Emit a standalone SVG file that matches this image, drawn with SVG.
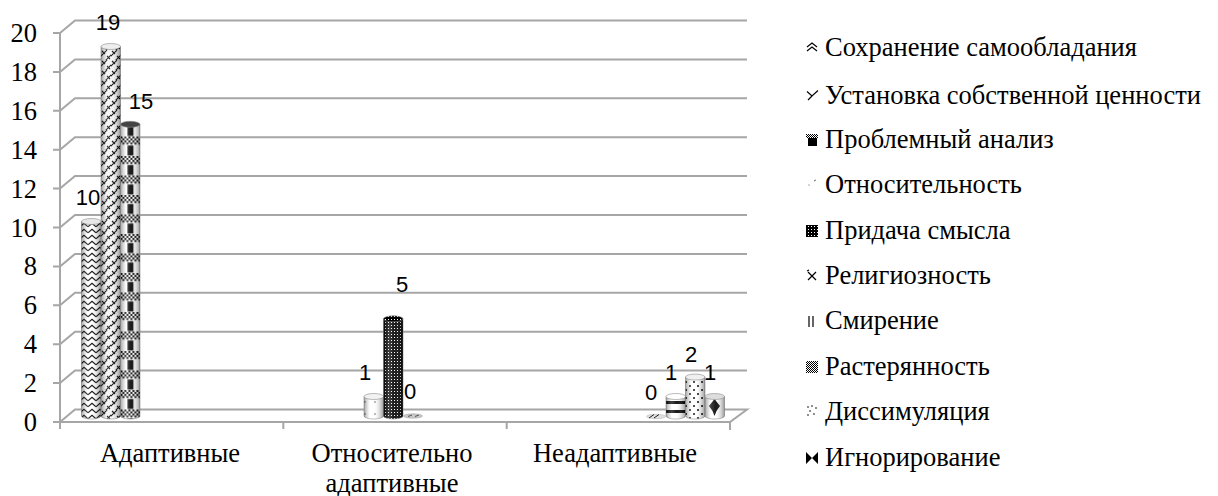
<svg xmlns="http://www.w3.org/2000/svg" width="1218" height="496" viewBox="0 0 1218 496">
<style>
.grid{stroke:#A6A6A6;stroke-width:2;fill:none}
.yl{font-family:'Liberation Serif',serif;font-size:26.5px;fill:#000;text-anchor:end}
.cl{font-family:'Liberation Serif',serif;font-size:26.5px;fill:#000;text-anchor:middle}
.lg{font-family:'Liberation Serif',serif;font-size:26.5px;fill:#000}
.dl{font-family:'Liberation Sans',Arial,sans-serif;font-size:22px;fill:#000;text-anchor:middle}
.body{stroke:#8C8C8C;stroke-width:0.6}
.shade{fill:url(#shade);stroke:none}
.top{stroke:#8C8C8C;stroke-width:0.6}
.ic{stroke:#000;stroke-width:1.2;fill:none}
</style>
<defs>
<linearGradient id="shade" x1="0" y1="0" x2="1" y2="0">
<stop offset="0" stop-color="#000" stop-opacity="0.35"/>
<stop offset="0.3" stop-color="#fff" stop-opacity="0.25"/>
<stop offset="0.55" stop-color="#fff" stop-opacity="0.1"/>
<stop offset="1" stop-color="#000" stop-opacity="0.4"/>
</linearGradient>
<pattern id="p1" patternUnits="userSpaceOnUse" width="8" height="6">
<rect width="8" height="6" fill="#fff"/>
<path d="M0,4.8 L4,1.2 L8,4.8" stroke="#000" stroke-width="1.2" fill="none"/>
</pattern>
<pattern id="p2" patternUnits="userSpaceOnUse" width="10" height="10" x="101">
<rect width="10" height="10" fill="#f4f4f4"/>
<path d="M-1,7 L6,0 M4,11 L11,4 M1,1 L4,4 M6,6 L9,9" stroke="#000" stroke-width="1.1" fill="none"/>
</pattern>
<pattern id="p3" patternUnits="userSpaceOnUse" width="19.5" height="19.5" x="120.5" y="0">
<rect width="19.5" height="19.5" fill="#fff"/>
<path d="M0,0h2v2h-2zM4,0h2v2h-2zM8,0h2v2h-2zM12,0h2v2h-2zM16,0h2v2h-2zM2,2h2v2h-2zM6,2h2v2h-2zM10,2h2v2h-2zM14,2h2v2h-2zM18,2h2v2h-2zM0,4h2v2h-2zM4,4h2v2h-2zM8,4h2v2h-2zM12,4h2v2h-2zM16,4h2v2h-2zM2,6h2v2h-2zM6,6h2v2h-2zM10,6h2v2h-2zM14,6h2v2h-2zM18,6h2v2h-2z" fill="#000"/>
<rect x="7" y="9" width="6" height="10" fill="#000"/>
</pattern>
<pattern id="p4" patternUnits="userSpaceOnUse" width="10" height="12">
<rect width="10" height="12" fill="#fff"/>
<circle cx="5" cy="6" r="0.8" fill="#555"/>
</pattern>
<pattern id="p5" patternUnits="userSpaceOnUse" width="3" height="3">
<rect width="3" height="3" fill="#000"/>
<rect x="1" y="1" width="1" height="1" fill="#fff"/>
</pattern>
<pattern id="p8" patternUnits="userSpaceOnUse" width="20" height="9" y="398">
<rect width="20" height="9" fill="#fff"/>
<rect y="3" width="20" height="3" fill="#000"/>
</pattern>
<pattern id="p9" patternUnits="userSpaceOnUse" width="8" height="8">
<rect width="8" height="8" fill="#fff"/>
<circle cx="2" cy="2" r="1.1" fill="#000"/>
<circle cx="6" cy="6" r="1.1" fill="#000"/>
</pattern>
<pattern id="pck" patternUnits="userSpaceOnUse" width="2" height="2">
<rect width="2" height="2" fill="#fff"/>
<rect width="1" height="1" fill="#000"/>
<rect x="1" y="1" width="1" height="1" fill="#000"/>
</pattern>
</defs>

<g id="axes">
<path class="grid" d="M53,422 L730,422 L747,409.5 L75,409.5 L60,422"/>
<path class="grid" d="M53,383.1 L60,383.1 L75,370.6 L747,370.6"/>
<path class="grid" d="M53,344.2 L60,344.2 L75,331.7 L747,331.7"/>
<path class="grid" d="M53,305.3 L60,305.3 L75,292.8 L747,292.8"/>
<path class="grid" d="M53,266.4 L60,266.4 L75,253.9 L747,253.9"/>
<path class="grid" d="M53,227.5 L60,227.5 L75,215 L747,215"/>
<path class="grid" d="M53,188.6 L60,188.6 L75,176.1 L747,176.1"/>
<path class="grid" d="M53,149.7 L60,149.7 L75,137.2 L747,137.2"/>
<path class="grid" d="M53,110.8 L60,110.8 L75,98.3 L747,98.3"/>
<path class="grid" d="M53,71.9 L60,71.9 L75,59.4 L747,59.4"/>
<path class="grid" d="M53,33 L60,33 L75,20.5 L747,20.5"/>
<path class="grid" d="M60,33 L60,429 M283.3,422 L283.3,429 M506.7,422 L506.7,429 M730,422 L730,430"/>
<text class="yl" x="37" y="431">0</text>
<text class="yl" x="37" y="392.1">2</text>
<text class="yl" x="37" y="353.2">4</text>
<text class="yl" x="37" y="314.3">6</text>
<text class="yl" x="37" y="275.4">8</text>
<text class="yl" x="37" y="236.5">10</text>
<text class="yl" x="37" y="197.6">12</text>
<text class="yl" x="37" y="158.7">14</text>
<text class="yl" x="37" y="119.8">16</text>
<text class="yl" x="37" y="80.9">18</text>
<text class="yl" x="37" y="42">20</text>
<text class="cl" x="170" y="462">Адаптивные</text>
<text class="cl" x="392" y="462">Относительно</text>
<text class="cl" x="392" y="492">адаптивные</text>
<text class="cl" x="615" y="462">Неадаптивные</text>
</g>

<g id="bars">
<g id="a-s1">
<path class="body" fill="url(#p1)" d="M81.5,221.5 V416 A9.75,3 0 0 0 101,416 V221.5 Z"/>
<path class="shade" d="M81.5,221.5 V416 A9.75,3 0 0 0 101,416 V221.5 Z"/>
<ellipse class="top" cx="91.25" cy="221.5" rx="9.75" ry="3" fill="#e8e8e8"/>
</g>
<g id="a-s2">
<path class="body" fill="url(#p2)" d="M101,46.5 V416 A9.75,3 0 0 0 120.5,416 V46.5 Z"/>
<path class="shade" d="M101,46.5 V416 A9.75,3 0 0 0 120.5,416 V46.5 Z"/>
<ellipse class="top" cx="110.75" cy="46.5" rx="9.75" ry="3" fill="#eee"/>
</g>
<g id="a-s3">
<path class="body" fill="url(#p3)" d="M120.5,124.3 V416 A9.75,3 0 0 0 140,416 V124.3 Z"/>
<path class="shade" d="M120.5,124.3 V416 A9.75,3 0 0 0 140,416 V124.3 Z"/>
<ellipse class="top" cx="130.25" cy="124.3" rx="9.75" ry="3" fill="#444"/>
</g>
<g id="m-s4">
<path class="body" fill="url(#p4)" d="M364,396.5 V416 A9.75,3 0 0 0 383.5,416 V396.5 Z"/>
<path class="shade" d="M364,396.5 V416 A9.75,3 0 0 0 383.5,416 V396.5 Z"/>
<ellipse class="top" cx="373.75" cy="396.5" rx="9.75" ry="3" fill="#f2f2f2"/>
</g>
<g id="m-s5">
<path class="body" fill="url(#p5)" d="M383.5,318.8 V416 A9.75,3 0 0 0 403,416 V318.8 Z"/>
<path class="shade" d="M383.5,318.8 V416 A9.75,3 0 0 0 403,416 V318.8 Z"/>
<ellipse class="top" cx="393.25" cy="318.8" rx="9.75" ry="3" fill="url(#p5)"/>
</g>
<g id="m-s6">
<ellipse cx="413" cy="416" rx="9.5" ry="2.2" fill="#c8c8c8" stroke="#999" stroke-width="0.5"/>
<path d="M408,416.5 L412,415 M415,416.5 L419,415" stroke="#555" stroke-width="1"/>
</g>
<g id="n-s7">
<ellipse cx="656" cy="416.5" rx="9.5" ry="2.2" fill="#e0e0e0" stroke="#aaa" stroke-width="0.5"/>
<path d="M649,418 L654,414.5 M654,418 L659,414.5" stroke="#222" stroke-width="1"/>
</g>
<g id="n-s8">
<path class="body" fill="url(#p8)" d="M666,396.5 V416 A9.75,3 0 0 0 685.5,416 V396.5 Z"/>
<path class="shade" d="M666,396.5 V416 A9.75,3 0 0 0 685.5,416 V396.5 Z"/>
<ellipse class="top" cx="675.75" cy="396.5" rx="9.75" ry="3" fill="#fff" stroke="#000" stroke-width="1.2"/>
</g>
<g id="n-s9">
<path class="body" fill="url(#p9)" d="M685.5,377.1 V416 A9.75,3 0 0 0 705,416 V377.1 Z"/>
<path class="shade" d="M685.5,377.1 V416 A9.75,3 0 0 0 705,416 V377.1 Z"/>
<ellipse class="top" cx="695.25" cy="377.1" rx="9.75" ry="3" fill="#f0f0f0"/>
</g>
<g id="n-s10">
<path class="body" fill="#fff" d="M705,396.5 V416 A9.75,3 0 0 0 724.5,416 V396.5 Z"/>
<path d="M714.5,399 L720,406 L716.5,411 L714.5,416 L712.5,411 L709,406 Z" fill="#000"/>
<path class="shade" d="M705,396.5 V416 A9.75,3 0 0 0 724.5,416 V396.5 Z"/>
<ellipse class="top" cx="714.75" cy="396.5" rx="9.75" ry="3" fill="#ddd"/>
</g>
</g>

<g id="data-labels">
<text class="dl" x="88" y="205">10</text>
<text class="dl" x="108" y="30">19</text>
<text class="dl" x="141" y="109">15</text>
<text class="dl" x="365" y="380">1</text>
<text class="dl" x="402" y="292">5</text>
<text class="dl" x="410" y="399">0</text>
<text class="dl" x="651" y="400">0</text>
<text class="dl" x="671" y="380">1</text>
<text class="dl" x="691" y="362">2</text>
<text class="dl" x="710" y="380">1</text>
</g>

<g id="legend">
<g id="lg1"><path class="ic" d="M807,47 L812,43 L817,47 M807,51 L812,47 L817,51"/><text class="lg" x="825" y="56">Сохранение самообладания</text></g>
<g id="lg2"><path class="ic" d="M807,91.5 L812,96 L818,90.5 M812,96 L808,100"/><text class="lg" x="825" y="103.5">Установка собственной ценности</text></g>
<g id="lg3"><rect x="806" y="134" width="12" height="4" fill="url(#pck)"/><rect x="808" y="138" width="9" height="8" fill="#000"/><text class="lg" x="825" y="148">Проблемный анализ</text></g>
<g id="lg4"><path d="M814,181 L816,180" stroke="#666" stroke-width="1"/><circle cx="809" cy="185" r="0.7" fill="#888"/><text class="lg" x="825" y="193">Относительность</text></g>
<g id="lg5"><rect x="806" y="225" width="12" height="12" fill="url(#p5)"/><text class="lg" x="825" y="238.5">Придача смысла</text></g>
<g id="lg6"><path class="ic" d="M808,272 L816,280 M816,272 L808,280 M807,271 L809,270"/><text class="lg" x="825" y="283.5">Религиозность</text></g>
<g id="lg7"><path class="ic" d="M809,316 V327 M813,316 V327"/><text class="lg" x="825" y="329">Смирение</text></g>
<g id="lg8"><rect x="806" y="361" width="12" height="12" fill="url(#pck)"/><text class="lg" x="825" y="374.5">Растерянность</text></g>
<g id="lg9"><g fill="#000"><circle cx="808" cy="407" r="0.8"/><circle cx="812" cy="406" r="0.8"/><circle cx="816" cy="408" r="0.8"/><circle cx="810" cy="411" r="0.8"/><circle cx="814" cy="414" r="0.8"/><circle cx="808" cy="415" r="0.8"/></g><text class="lg" x="825" y="420">Диссимуляция</text></g>
<g id="lg10"><path d="M806,452 L812,458 L806,464 Z M818,452 L812,458 L818,464 Z" fill="#000"/><text class="lg" x="825" y="466">Игнорирование</text></g>
</g>
</svg>
